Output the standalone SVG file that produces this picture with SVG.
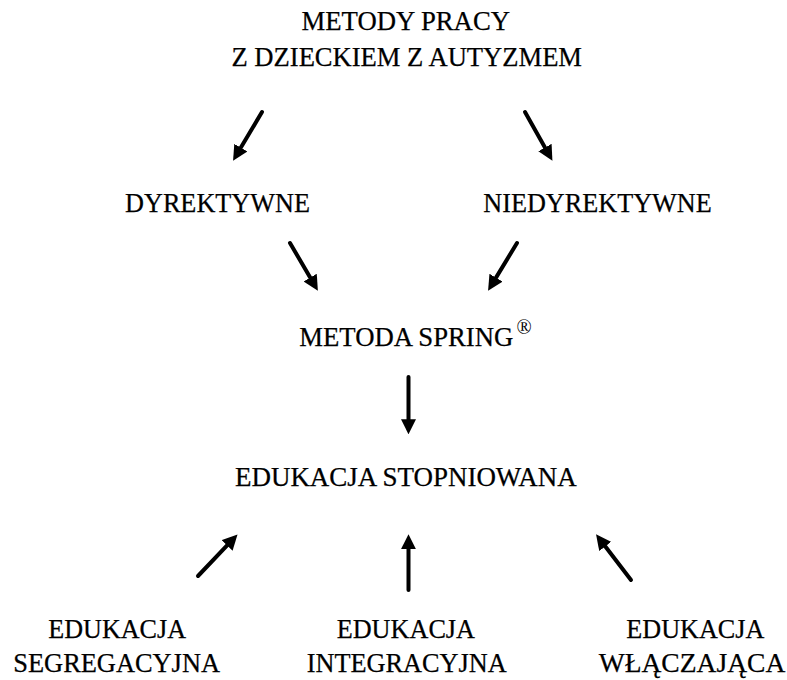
<svg xmlns="http://www.w3.org/2000/svg" width="787" height="680" viewBox="0 0 787 680">
  <style>
    text { font-family: "Liberation Serif", "Times New Roman", serif; font-size: 26.5px; fill: #000; stroke: #000; stroke-width: 0.25; }
    .sup { font-size: 20px; stroke-width: 0; }
    .conn line { stroke: #000; stroke-width: 4; stroke-linecap: round; fill: none; marker-end: url(#head); }
  </style>
  <defs>
    <marker id="head" viewBox="0 0 10 10" refX="3" refY="5" markerWidth="3.8" markerHeight="3.8" orient="auto" markerUnits="strokeWidth">
      <path d="M0,0 L10,5 L0,10 z" fill="#000"/>
    </marker>
  </defs>
  <rect width="787" height="680" fill="#fff"/>

  <g id="node-metody">
    <text x="301.5" y="30" textLength="208.5" lengthAdjust="spacingAndGlyphs">METODY PRACY</text>
    <text x="231.5" y="66" textLength="350.5" lengthAdjust="spacingAndGlyphs">Z DZIECKIEM Z AUTYZMEM</text>
  </g>
  <g id="node-dyrektywne">
    <text x="125" y="211.5" textLength="185" lengthAdjust="spacingAndGlyphs">DYREKTYWNE</text>
  </g>
  <g id="node-niedyrektywne">
    <text x="483.3" y="212" textLength="228.4" lengthAdjust="spacingAndGlyphs">NIEDYREKTYWNE</text>
  </g>
  <g id="node-spring">
    <text x="299.3" y="346" textLength="214" lengthAdjust="spacingAndGlyphs">METODA SPRING</text>
    <text class="sup" x="516.5" y="334">®</text>
  </g>
  <g id="node-stopniowana">
    <text x="235" y="486" textLength="341.7" lengthAdjust="spacingAndGlyphs">EDUKACJA STOPNIOWANA</text>
  </g>
  <g id="node-segregacyjna">
    <text x="48.3" y="638" textLength="137.7" lengthAdjust="spacingAndGlyphs">EDUKACJA</text>
    <text x="13.3" y="671.7" textLength="206.7" lengthAdjust="spacingAndGlyphs">SEGREGACYJNA</text>
  </g>
  <g id="node-integracyjna">
    <text x="336.7" y="638" textLength="138.3" lengthAdjust="spacingAndGlyphs">EDUKACJA</text>
    <text x="306.7" y="671.7" textLength="200" lengthAdjust="spacingAndGlyphs">INTEGRACYJNA</text>
  </g>
  <g id="node-wlaczajaca">
    <text x="626.3" y="638" textLength="138" lengthAdjust="spacingAndGlyphs">EDUKACJA</text>
    <text x="598.7" y="671.7" textLength="186.6" lengthAdjust="spacingAndGlyphs">WŁĄCZAJĄCA</text>
  </g>

  <g id="connectors" class="conn">
    <line x1="262" y1="112" x2="238.5" y2="151.6"/>
    <line x1="525" y1="112" x2="547.2" y2="151.5"/>
    <line x1="290" y1="243" x2="312.5" y2="281.5"/>
    <line x1="517" y1="243" x2="493.6" y2="281.6"/>
    <line x1="408.5" y1="377" x2="408.5" y2="423.7"/>
    <line x1="198" y1="576" x2="230.2" y2="542.1"/>
    <line x1="408.5" y1="590" x2="408.5" y2="544.8"/>
    <line x1="631" y1="580" x2="602.5" y2="542.8"/>
  </g>
</svg>
